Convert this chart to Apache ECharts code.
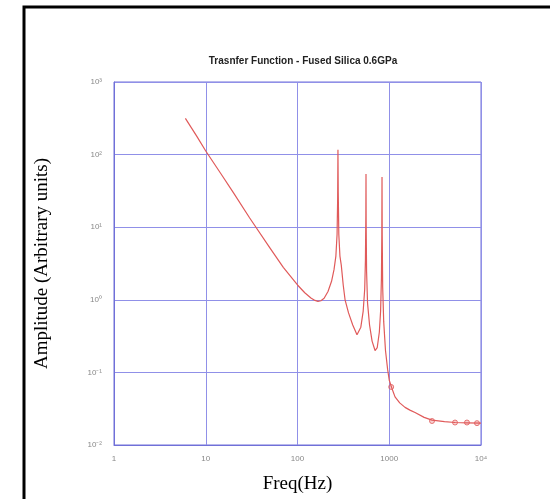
<!DOCTYPE html>
<html>
<head>
<meta charset="utf-8">
<script src="https://cdn.jsdelivr.net/npm/echarts@6/dist/echarts.min.js"></script>
</head>
<body style="margin:0;background:#fff">
    <div id="main" style="width:550px;height:499px;"></div>
</body>
<script>
    // frequency (Hz) and amplitude (log-log)
    var freq = [6, 8, 10, 15, 20, 30, 50, 70, 100, 120, 140, 155, 167, 180, 195, 215, 235, 250, 262, 270, 274, 276,
        278, 282, 290, 300, 315, 330, 360, 400, 445, 490, 520, 540, 550, 556, 558, 560, 566, 580, 610, 650, 700, 740, 780, 805, 822, 830, 834,
        838, 848, 870, 910, 960, 1000, 1080, 1156, 1300, 1486, 1700, 1910, 2400, 2924, 4000, 5210, 7000, 10000];
    var amp = [316, 178, 112, 52, 30, 13.5, 5.2, 2.8, 1.6, 1.25, 1.06, 0.98, 0.95, 0.97, 1.05, 1.3, 1.8, 2.6, 4.0, 8, 25, 117,
        30, 8, 4.0, 3.0, 1.6, 1.0, 0.66, 0.45, 0.33, 0.42, 0.7, 1.4, 3.5, 15, 54, 12, 2.5, 0.9, 0.45, 0.27, 0.2, 0.22, 0.36, 0.7, 2.0, 8, 49,
        8, 1.5, 0.5, 0.2, 0.11, 0.078, 0.058, 0.046, 0.038, 0.033, 0.03, 0.028, 0.024, 0.022, 0.021, 0.0204, 0.0202, 0.02];
    // measured points (markers)
    var markFreq = [1050, 2924, 5210, 7030, 9040];
    var markAmp = [0.063, 0.0214, 0.0204, 0.0204, 0.02];

    var yTicks = [1e-2, 1e-1, 1, 1e1, 1e2, 1e3];
    var xTicks = [1, 10, 100, 1000, 10000];

    var sup = { '-': '⁻', '0': '⁰', '1': '¹', '2': '²', '3': '³', '4': '⁴', '5': '⁵', '6': '⁶', '7': '⁷', '8': '⁸', '9': '⁹' };
    function pow10(v) {
        var e = String(Math.round(Math.log10(v)));
        return '10' + e.split('').map(function (c) { return sup[c]; }).join('');
    }

    var chartDom = document.getElementById('main');
    var myChart = echarts.init(chartDom);
    var option;

    option = {
        animation: false,
        title: {
            text: 'Trasnfer Function - Fused Silica 0.6GPa',
            left: 298,
            textAlign: 'center',
            top: 51,
            textStyle: { fontSize: 10, fontWeight: 'bold', color: '#222', fontFamily: 'Liberation Sans' }
        },
        grid: {
            left: 114, right: 69, top: 82, bottom: 51,
            show: true, borderColor: '#7070d8', borderWidth: 1
        },
        graphic: [{
            type: 'rect',
            shape: { x: 24, y: 7, width: 600, height: 600 },
            style: { fill: 'none', stroke: '#000', lineWidth: 3 }
        }],
        xAxis: {
            type: 'log',
            logBase: 10,
            min: xTicks[0],
            max: xTicks[xTicks.length - 1],
            name: 'Freq(Hz)',
            nameLocation: 'middle',
            nameGap: 30,
            nameTextStyle: { fontFamily: 'Liberation Serif', fontSize: 19, color: '#000' },
            axisLine: { lineStyle: { color: '#7070d8' } },
            axisTick: { show: false },
            axisLabel: {
                color: '#888', fontSize: 8, margin: 10,
                formatter: function (v) { return v < 10000 ? String(Math.round(v)) : pow10(v); }
            },
            splitLine: { show: true, lineStyle: { color: '#9090e8', width: 1 } }
        },
        yAxis: {
            type: 'log',
            logBase: 10,
            min: yTicks[0],
            max: yTicks[yTicks.length - 1],
            name: 'Amplitude (Arbitrary units)',
            nameLocation: 'middle',
            nameGap: 62,
            nameTextStyle: { fontFamily: 'Liberation Serif', fontSize: 19, color: '#000' },
            axisLine: { show: true, lineStyle: { color: '#7070d8' } },
            axisTick: { show: false },
            axisLabel: {
                color: '#888', fontSize: 8, margin: 12,
                formatter: pow10
            },
            splitLine: { show: true, lineStyle: { color: '#9090e8', width: 1 } }
        },
        series: [
            {
                type: 'line',
                data: freq.map(function (f, i) { return [f, amp[i]]; }),
                showSymbol: false,
                lineStyle: { color: '#e05a5a', width: 1.2 }
            },
            {
                type: 'scatter',
                data: markFreq.map(function (f, i) { return [f, markAmp[i]]; }),
                symbol: 'circle',
                symbolSize: 5,
                itemStyle: { color: 'rgba(230,90,90,0.35)', borderColor: '#e05a5a', borderWidth: 1 }
            }
        ]
    };

    option && myChart.setOption(option);
</script>
</html>
